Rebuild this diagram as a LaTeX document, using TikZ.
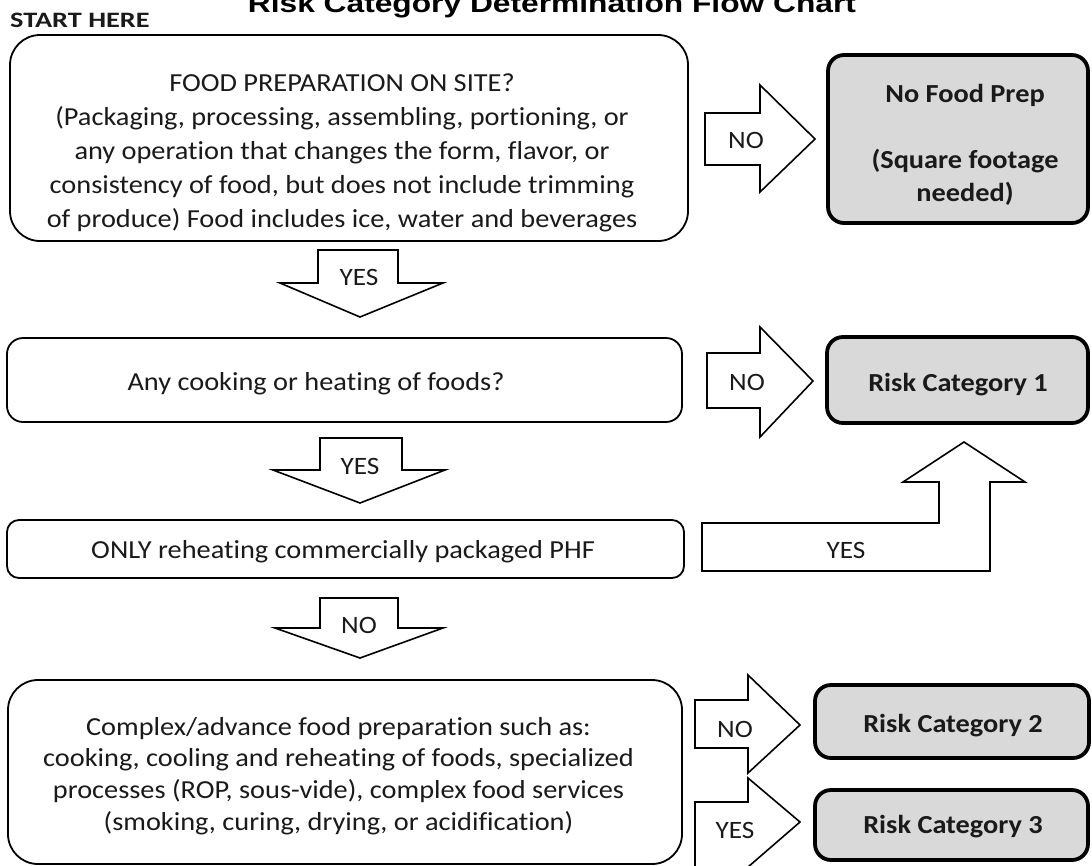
\documentclass[tikz,border=0pt]{standalone}
\usepackage{fontspec}
\setmainfont{Carlito}[Ligatures=NoCommon, FakeStretch=1.09]
\newfontfamily\titlefont{Liberation Sans}
\definecolor{boxgray}{HTML}{D9D9D9}
\definecolor{inkc}{HTML}{1A1A1A}
\tikzset{
  plainbox/.style={draw=black, line width=1.8pt, fill=white, rounded corners=#1},
  plainbox/.default=14pt,
  graybox/.style={draw=black, line width=3.8pt, fill=boxgray, rounded corners=16pt},
  blockarrow/.style={draw=black, line width=1.6pt, fill=white, line join=miter},
  txt/.style={font=\fontsize{26pt}{34pt}\selectfont, text=inkc, align=center, inner sep=0pt},
  btxt/.style={font=\bfseries\fontsize{26pt}{33pt}\selectfont, text=inkc, align=center, inner sep=0pt},
  lbl/.style={font=\fontsize{25pt}{30pt}\selectfont, text=inkc, inner sep=0pt, anchor=base},
}
\begin{document}
\begin{tikzpicture}[x=1pt,y=-1pt]
\useasboundingbox (0,0) rectangle (1092,865);
% title (top is cut by the page)
\node[anchor=base, inner sep=0pt, font=\titlefont\bfseries\fontsize{26pt}{30pt}\selectfont] (title) at (552,12) {\scalebox{1.22}[1]{Risk Category Determination Flow Chart}};
\node[anchor=base west, inner sep=0pt, font=\bfseries\fontsize{22pt}{26pt}\selectfont, text=inkc] (start) at (10,27) {\scalebox{1.18}[1]{START HERE}};
% question boxes
\node[plainbox=30pt, minimum width=678pt, minimum height=206pt] (b1) at (349,138) {};
\node[plainbox=16pt, minimum width=675pt, minimum height=84pt] (b2) at (344.5,380) {};
\node[plainbox=12pt, minimum width=677pt, minimum height=58pt] (b3) at (345.5,549) {};
\node[plainbox=30pt, minimum width=674pt, minimum height=184pt] (b4) at (345,772) {};
% texts of question boxes
\node[txt] (t1) at (342,153) {FOOD PREPARATION ON SITE?\\(Packaging, processing, assembling, portioning, or\\any operation that changes the form, flavor, or\\consistency of food, but does not include trimming\\of produce) Food includes ice, water and beverages};
\node[txt, anchor=base] (t2) at (316,390) {Any cooking or heating of foods?};
\node[txt, anchor=base] (t3) at (343,558) {ONLY reheating commercially packaged PHF};
\node[txt, font=\fontsize{26pt}{31.7pt}\selectfont] (t4) at (338.5,776) {Complex/advance food preparation such as:\\cooking, cooling and reheating of foods, specialized\\processes (ROP, sous-vide), complex food services\\(smoking, curing, drying, or acidification)};
% result boxes
\node[graybox, minimum width=260pt, minimum height=168pt] (g1) at (958,139) {};
\node[btxt] (g1t) at (965,145) {No Food Prep\\[33pt](Square footage\\needed)};
\node[graybox, minimum width=261pt, minimum height=86pt] (g2) at (957.5,380) {};
\node[btxt, anchor=base] (g2t) at (958,391) {Risk Category 1};
\node[graybox, minimum width=274pt, minimum height=73pt] (g3) at (952,721.5) {};
\node[btxt, anchor=base] (g3t) at (953,732) {Risk Category 2};
\node[graybox, minimum width=273pt, minimum height=70pt] (g4) at (951.5,825) {};
\node[btxt, anchor=base] (g4t) at (953,833) {Risk Category 3};
% block arrows: right
\draw[blockarrow] (705,113) -- (760,113) -- (760,85) -- (815,139) -- (760,192) -- (760,165) -- (705,165) -- cycle;
\node[lbl] (a1) at (746,148) {NO};
\draw[blockarrow] (707,353) -- (760,353) -- (760,327) -- (813,381) -- (760,437) -- (760,408) -- (707,408) -- cycle;
\node[lbl] (a2) at (747,390) {NO};
\draw[blockarrow] (695,700) -- (748,700) -- (748,675) -- (800,725) -- (748,773) -- (748,748) -- (695,748) -- cycle;
\node[lbl] (a3) at (735,737) {NO};
\draw[blockarrow] (695,880) -- (695,802) -- (748,802) -- (748,778) -- (800,822) -- (748,867) -- (748,880);
\node[lbl] (a4) at (735,838) {YES};
% block arrows: down
\draw[blockarrow] (318,250) -- (398,250) -- (398,283) -- (443,283) -- (360,317) -- (280,283) -- (318,283) -- cycle;
\node[lbl] (d1) at (359,285) {YES};
\draw[blockarrow] (320,438) -- (402,438) -- (402,470) -- (445,470) -- (360,503) -- (273,470) -- (320,470) -- cycle;
\node[lbl] (d2) at (360,474) {YES};
\draw[blockarrow] (320,598) -- (398,598) -- (398,628) -- (443,628) -- (360,658) -- (275,628) -- (320,628) -- cycle;
\node[lbl] (d3) at (359,633) {NO};
% bent arrow up to Risk Category 1
\draw[blockarrow] (702,523) -- (939,523) -- (939,482) -- (903,482) -- (964,442) -- (1025,482) -- (990,482) -- (990,571) -- (702,571) -- cycle;
\node[lbl] (u1) at (846,558) {YES};
\end{tikzpicture}
\end{document}
